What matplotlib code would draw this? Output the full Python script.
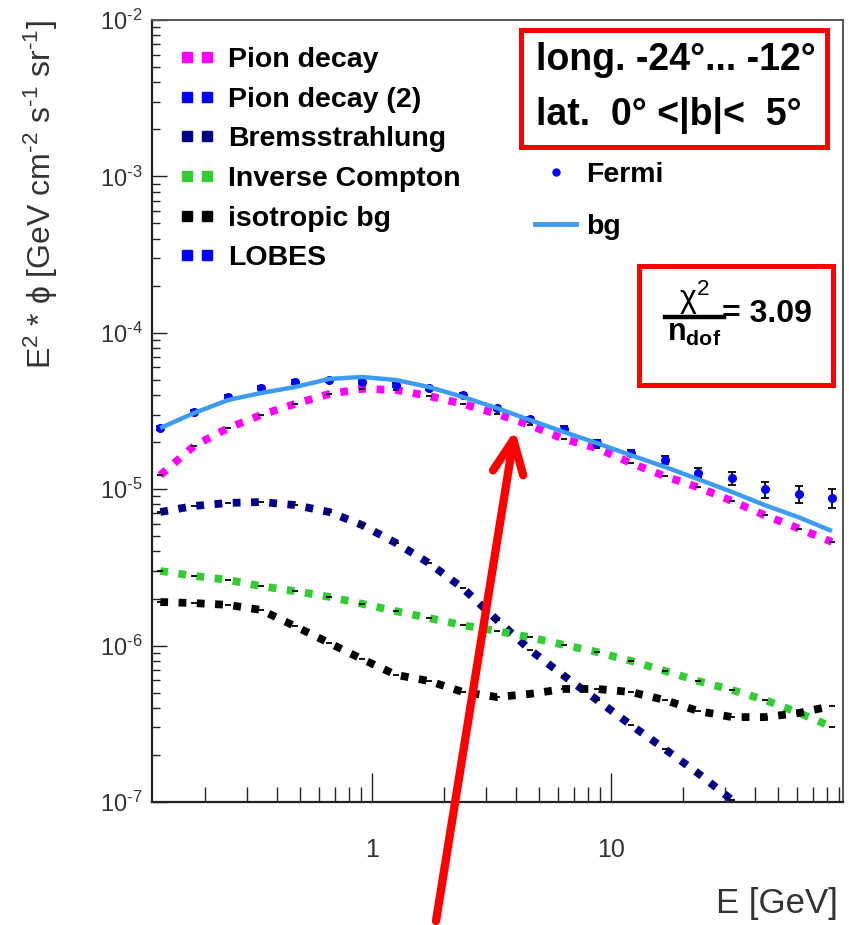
import numpy as np
import matplotlib
matplotlib.use("Agg")
import matplotlib.pyplot as plt
from matplotlib.lines import Line2D
from matplotlib.patches import Rectangle, FancyArrowPatch
from matplotlib.ticker import LogLocator, NullFormatter, FuncFormatter

plt.rcParams['font.family'] = ['Liberation Sans', 'DejaVu Sans']
plt.rcParams['mathtext.fontset'] = 'custom'
plt.rcParams['mathtext.rm'] = 'Liberation Sans'
plt.rcParams['mathtext.it'] = 'Liberation Sans:italic'
plt.rcParams['mathtext.bf'] = 'Liberation Sans:bold'

# ---------------- data ----------------
energy = [0.130, 0.180, 0.250, 0.343, 0.476, 0.661, 0.908, 1.26, 1.73, 2.40, 3.33,
          4.58, 6.36, 8.74, 12.1, 16.8, 23.1, 32.1, 44.1, 61.2, 84.1]

fermi = [2.46e-5, 3.12e-5, 3.89e-5, 4.44e-5, 4.85e-5, 4.99e-5, 4.85e-5, 4.64e-5, 4.44e-5,
         4.00e-5, 3.30e-5, 2.81e-5, 2.43e-5, 1.97e-5, 1.70e-5, 1.54e-5, 1.27e-5, 1.18e-5,
         1.00e-5, 9.3e-6, 8.8e-6]
fermi_err = [0.07e-5, 0.08e-5, 0.09e-5, 0.10e-5, 0.11e-5, 0.11e-5, 0.11e-5, 0.11e-5, 0.11e-5,
             0.10e-5, 0.09e-5, 0.09e-5, 0.09e-5, 0.08e-5, 0.08e-5, 0.10e-5, 0.097e-5, 0.11e-5,
             0.117e-5, 1.16e-6, 1.17e-6]

bg = [2.46e-5, 3.07e-5, 3.72e-5, 4.12e-5, 4.50e-5, 5.07e-5, 5.22e-5, 4.99e-5, 4.50e-5,
      3.89e-5, 3.30e-5, 2.77e-5, 2.32e-5, 1.97e-5, 1.65e-5, 1.39e-5, 1.16e-5, 9.6e-6,
      7.9e-6, 6.6e-6, 5.4e-6]

pion = [1.23e-5, 1.89e-5, 2.46e-5, 2.98e-5, 3.51e-5, 4.06e-5, 4.38e-5, 4.31e-5, 3.94e-5,
        3.51e-5, 3.03e-5, 2.57e-5, 2.09e-5, 1.83e-5, 1.47e-5, 1.21e-5, 1.03e-5, 8.4e-6,
        6.8e-6, 5.6e-6, 4.6e-6]

brems = [7.15e-6, 7.81e-6, 8.17e-6, 8.28e-6, 7.92e-6, 7.15e-6, 5.90e-6, 4.53e-6, 3.37e-6,
         2.33e-6, 1.46e-6, 9.4e-7, 6.4e-7, 4.49e-7, 3.11e-7, 2.18e-7, 1.53e-7, 1.03e-7,
         7.1e-8, 4.9e-8, 3.4e-8]

ic = [3.00e-6, 2.79e-6, 2.63e-6, 2.40e-6, 2.23e-6, 2.05e-6, 1.85e-6, 1.66e-6, 1.50e-6,
      1.35e-6, 1.24e-6, 1.13e-6, 1.01e-6, 9.1e-7, 7.98e-7, 6.89e-7, 5.94e-7, 5.20e-7,
      4.49e-7, 3.71e-7, 3.02e-7]

iso = [1.90e-6, 1.87e-6, 1.82e-6, 1.69e-6, 1.33e-6, 1.04e-6, 8.2e-7, 6.5e-7, 5.94e-7,
       5.05e-7, 4.69e-7, 4.91e-7, 5.28e-7, 5.28e-7, 5.05e-7, 4.49e-7, 3.82e-7, 3.49e-7,
       3.49e-7, 3.71e-7, 4.11e-7]

components = [
    ("Pion decay", pion, "#ff00ff"),
    ("Bremsstrahlung", brems, "#00008b"),
    ("Inverse Compton", ic, "#33cc33"),
    ("isotropic bg", iso, "#000000"),
]
legend_entries = [
    ("Pion decay", "#ff00ff"),
    ("Pion decay (2)", "#0000ff"),
    ("Bremsstrahlung", "#00008b"),
    ("Inverse Compton", "#33cc33"),
    ("isotropic bg", "#000000"),
    ("LOBES", "#0000ff"),
]

# ---------------- figure ----------------
W, H = 849, 925
fig = plt.figure(figsize=(W / 100, H / 100), dpi=100)
L, R, T, B = 152, 843, 20, 802
ax = fig.add_axes([L / W, 1 - B / H, (R - L) / W, (B - T) / H])
ax.set_xscale('log')
ax.set_yscale('log')
ax.set_xlim(0.12, 93.5)
ax.set_ylim(1e-7, 1e-2)

dot_style = (0, (1.0, 1.35))
for name, vals, col in components:
    ax.plot(energy, vals, color=col, lw=5.6, linestyle=dot_style, dash_capstyle='butt', zorder=2)
    ax.plot(energy, vals, linestyle='none', marker='_', color='black', ms=4, mew=1.3, zorder=3)

ax.errorbar(energy, fermi, yerr=fermi_err, fmt='o', color='#0000ff', ms=5.5,
            ecolor='black', elinewidth=1.3, capsize=3, capthick=1.3, zorder=4)
ax.plot(energy, bg, color='#3d9bf0', lw=3.2, zorder=5, solid_capstyle='butt')

# ticks
ax.tick_params(axis='both', which='both', direction='in', colors='#222222', width=1.0)
ax.tick_params(axis='x', which='major', length=21, pad=26, labelsize=18)
ax.tick_params(axis='x', which='minor', length=11)
ax.tick_params(axis='y', which='major', length=11, pad=7, labelsize=17)
ax.tick_params(axis='y', which='minor', length=6)
ax.tick_params(top=False, right=False)
ax.xaxis.set_major_locator(LogLocator(base=10))
ax.xaxis.set_minor_locator(LogLocator(base=10, subs=np.arange(2, 10)))
ax.xaxis.set_minor_formatter(NullFormatter())
ax.xaxis.set_major_formatter(FuncFormatter(lambda v, p: f"{v:g}"))
ax.yaxis.set_major_formatter(FuncFormatter(
    lambda v, p: r"$\mathregular{10^{\text{-}%d}}$" % round(-np.log10(v))))
ax.yaxis.set_minor_locator(LogLocator(base=10, subs=np.arange(2, 10), numticks=20))
ax.yaxis.set_minor_formatter(NullFormatter())
for lab in ax.get_xticklabels() + ax.get_yticklabels():
    lab.set_color('#333333')
for s in ['left', 'bottom']:
    ax.spines[s].set_color('#222222')
    ax.spines[s].set_linewidth(1.6)
for s in ['top', 'right']:
    ax.spines[s].set_color('#555555')
    ax.spines[s].set_linewidth(1.4)

# axis labels
fig.text(41 / W, 1 - 20 / H,
         r"E$^{2}$ * ϕ [GeV cm$^{\text{-}2}$ s$^{\text{-}1}$ sr$^{\text{-}1}$]",
         rotation=90, ha='center', va='top', fontsize=23, color='#333333')
fig.text(838 / W, 1 - 904 / H, "E [GeV]", ha='right', va='center', fontsize=25, color='#333333')

# legend of components
fs_leg = 20.5
handles1 = [Line2D([], [], marker='s', linestyle='none', color=c, ms=7.2) for _, c in legend_entries]
leg1 = ax.legend(handles1, [n for n, _ in legend_entries], numpoints=2, handlelength=1.32,
                 handletextpad=0.45, labelspacing=0.48, frameon=False, borderpad=0,
                 borderaxespad=0, loc='upper left', bbox_to_anchor=(178 / W, 1 - 47 / H),
                 bbox_transform=fig.transFigure, prop={'size': fs_leg, 'weight': 'bold'})
ax.add_artist(leg1)

handles2 = [Line2D([], [], marker='o', linestyle='none', color='#0000ff', ms=5),
            Line2D([], [], color='#3d9bf0', lw=3.5)]
leg2 = ax.legend(handles2, ["Fermi", "bg"], numpoints=1, handlelength=1.45, handletextpad=0.36,
                 labelspacing=0.9, frameon=False, borderpad=0, borderaxespad=0,
                 loc='upper left', bbox_to_anchor=(535 / W, 1 - 162 / H),
                 bbox_transform=fig.transFigure, prop={'size': fs_leg, 'weight': 'bold'})

# red boxes
def fig_rect(x0, y0, x1, y1):
    return Rectangle((x0 / W, 1 - y1 / H), (x1 - x0) / W, (y1 - y0) / H, transform=fig.transFigure,
                     fill=False, edgecolor='#ff0000', lw=3.6, zorder=10)

fig.add_artist(fig_rect(521, 30, 827, 147))
fig.add_artist(fig_rect(639, 266, 833, 385))
fig.text(536 / W, 1 - 60 / H, "long. -24°... -12°", ha='left', va='center', fontsize=27,
         fontweight='bold', color='black')
fig.text(536 / W, 1 - 115 / H, "lat.  0° <|b|<  5°", ha='left', va='center', fontsize=27,
         fontweight='bold', color='black')
# chi2 / ndof fraction
fig.text(694 / W, 1 - 298 / H, r"χ$^{2}$", ha='center', va='center', fontsize=23, color='black')
fig.add_artist(Line2D([665 / W, 724 / W], [1 - 317 / H, 1 - 317 / H], transform=fig.transFigure,
                      color='black', lw=3.2))
fig.text(694 / W, 1 - 333 / H, r"$\mathbf{n_{dof}}$", ha='center', va='center', fontsize=22,
         color='black')
fig.text(722 / W, 1 - 314 / H, "= 3.09", ha='left', va='center', fontsize=23,
         fontweight='bold', color='black')

# red arrow
arrow = FancyArrowPatch(posA=(436 / W, 1 - 921 / H), posB=(515 / W, 1 - 430 / H),
                        transform=fig.transFigure, arrowstyle='->,head_length=2.4,head_width=1.1',
                        mutation_scale=10, lw=6, color='#ff0000', shrinkA=0, shrinkB=0, zorder=20)
fig.add_artist(arrow)

fig.savefig("out.png", dpi=100)
